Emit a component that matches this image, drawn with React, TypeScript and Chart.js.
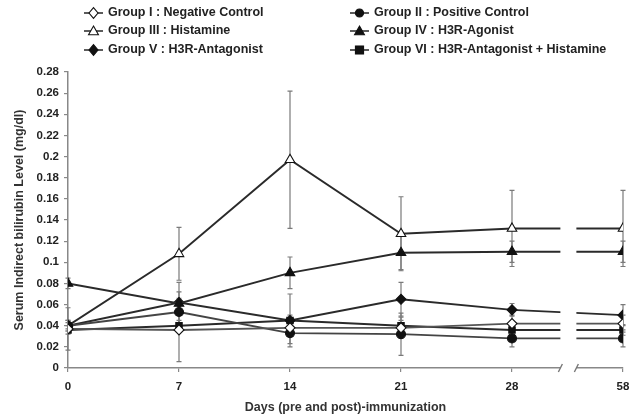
import React, { useEffect, useRef } from "react";
import { Chart, registerables } from "chart.js";

Chart.register(...registerables);

const DAY_LABELS = ["0", "7", "14", "21", "28", "58"];
const POSITIONS = [0, 1, 2, 3, 4, 5];

const GROUP_NAMES = [
  "Group I : Negative Control",
  "Group II : Positive Control",
  "Group III : Histamine",
  "Group IV : H3R-Agonist",
  "Group V : H3R-Antagonist",
  "Group VI : H3R-Antagonist + Histamine",
];

const G1 = [0.037, 0.036, 0.038, 0.038, 0.042, 0.042];
const G2 = [0.04, 0.053, 0.033, 0.032, 0.028, 0.028];
const G3 = [0.04, 0.108, 0.197, 0.127, 0.132, 0.132];
const G4 = [0.08, 0.061, 0.09, 0.109, 0.11, 0.11];
const G5 = [0.04, 0.062, 0.045, 0.065, 0.055, 0.05];
const G6 = [0.036, 0.04, 0.045, 0.04, 0.036, 0.036];

const E1 = [0.02, 0.03, 0.008, 0.01, 0.008, 0.008];
const E2 = [0.005, 0.01, 0.01, 0.02, 0.008, 0.008];
const E3 = [0.003, 0.025, 0.065, 0.035, 0.036, 0.036];
const E4 = [0.005, 0.02, 0.015, 0.016, 0.01, 0.01];
const E5 = [0.005, 0.01, 0.025, 0.016, 0.006, 0.01];
const E6 = [0.004, 0.005, 0.005, 0.005, 0.005, 0.005];

const VALUES = [G1, G2, G3, G4, G5, G6];
const ERRORS = [E1, E2, E3, E4, E5, E6];

const STYLES = [
  { shape: "rectRot", fill: "#ffffff", line: "#555555", r: 5 },
  { shape: "circle", fill: "#111111", line: "#444444", r: 4.5 },
  { shape: "triangle", fill: "#ffffff", line: "#2a2a2a", r: 5.5 },
  { shape: "triangle", fill: "#111111", line: "#2a2a2a", r: 5.5 },
  { shape: "rectRot", fill: "#111111", line: "#2a2a2a", r: 5 },
  { shape: "rect", fill: "#111111", line: "#2a2a2a", r: 4.5 },
];

const BREAK_START = 4.436;
const BREAK_END = 4.58;

const FONT = "'Liberation Sans', Arial, sans-serif";

function drawMarker(ctx: CanvasRenderingContext2D, shape: string, x: number, y: number, r: number, fill: string) {
  ctx.save();
  ctx.beginPath();
  if (shape === "circle") {
    ctx.arc(x, y, r, 0, Math.PI * 2);
  } else if (shape === "rect") {
    ctx.rect(x - r, y - r, 2 * r, 2 * r);
  } else if (shape === "rectRot") {
    ctx.moveTo(x, y - r * 1.2);
    ctx.lineTo(x + r, y);
    ctx.lineTo(x, y + r * 1.2);
    ctx.lineTo(x - r, y);
    ctx.closePath();
  } else if (shape === "triangle") {
    ctx.moveTo(x, y - r);
    ctx.lineTo(x + r, y + r * 0.75);
    ctx.lineTo(x - r, y + r * 0.75);
    ctx.closePath();
  }
  ctx.fillStyle = fill;
  ctx.fill();
  ctx.strokeStyle = "#111111";
  ctx.lineWidth = 1.1;
  ctx.stroke();
  ctx.restore();
}

const errorBarPlugin = {
  id: "errorBars",
  beforeDatasetsDraw(chart: any) {
    const ctx = chart.ctx;
    const ys = chart.scales.y;
    ctx.save();
    ctx.strokeStyle = "#7a7a7a";
    ctx.lineWidth = 1.2;
    chart.data.datasets.forEach((ds: any, i: number) => {
      const meta = chart.getDatasetMeta(i);
      const errs = ERRORS[i];
      meta.data.forEach((pt: any, j: number) => {
        const v = VALUES[i][j];
        const e = errs[j];
        const x = pt.x;
        const yTop = ys.getPixelForValue(v + e);
        const yBot = ys.getPixelForValue(Math.max(0, v - e));
        ctx.beginPath();
        ctx.moveTo(x, yTop);
        ctx.lineTo(x, yBot);
        ctx.moveTo(x - 2.5, yTop);
        ctx.lineTo(x + 2.5, yTop);
        ctx.moveTo(x - 2.5, yBot);
        ctx.lineTo(x + 2.5, yBot);
        ctx.stroke();
      });
    });
    ctx.restore();
  },
};

const breakPlugin = {
  id: "axisBreak",
  afterDatasetsDraw(chart: any) {
    const ctx = chart.ctx;
    const xs = chart.scales.x;
    const area = chart.chartArea;
    const x1 = xs.getPixelForValue(BREAK_START);
    const x2 = xs.getPixelForValue(BREAK_END);
    ctx.save();
    ctx.fillStyle = "#ffffff";
    ctx.fillRect(x1, area.top, x2 - x1, area.bottom - area.top + 3);
    ctx.strokeStyle = "#777777";
    ctx.lineWidth = 1.4;
    const b = area.bottom;
    [x1, x2].forEach((x) => {
      ctx.beginPath();
      ctx.moveTo(x - 2, b + 4);
      ctx.lineTo(x + 2, b - 4);
      ctx.stroke();
    });
    ctx.restore();
  },
};

const decorPlugin = {
  id: "decor",
  afterDraw(chart: any) {
    const ctx = chart.ctx;
    const area = chart.chartArea;
    ctx.save();
    // legend
    const colX = [84, 350];
    const rowY = [13, 31, 50];
    GROUP_NAMES.forEach((name, i) => {
      const x0 = colX[i % 2];
      const y = rowY[Math.floor(i / 2)];
      const st = STYLES[i];
      ctx.strokeStyle = "#333333";
      ctx.lineWidth = 1.6;
      ctx.beginPath();
      ctx.moveTo(x0, y);
      ctx.lineTo(x0 + 19, y);
      ctx.stroke();
      drawMarker(ctx, st.shape, x0 + 9.5, y, st.r * 0.9, st.fill);
      ctx.fillStyle = "#222222";
      ctx.font = `bold 12.5px ${FONT}`;
      ctx.textAlign = "left";
      ctx.textBaseline = "middle";
      ctx.fillText(name, x0 + 24, y);
    });
    // axis titles
    ctx.fillStyle = "#333333";
    ctx.font = `bold 12.5px ${FONT}`;
    ctx.textAlign = "center";
    ctx.textBaseline = "middle";
    ctx.fillText("Days (pre and post)-immunization", (area.left + area.right) / 2, 408);
    ctx.translate(20, (area.top + area.bottom) / 2);
    ctx.rotate(-Math.PI / 2);
    ctx.fillText("Serum Indirect bilirubin Level (mg/dl)", 0, 0);
    ctx.restore();
  },
};

export default function App() {
  const ref = useRef<HTMLCanvasElement | null>(null);

  useEffect(() => {
    if (!ref.current) return;
    const datasets = VALUES.map((vals, i) => ({
      label: GROUP_NAMES[i],
      data: vals.map((v, j) => ({ x: POSITIONS[j], y: v })),
      borderColor: STYLES[i].line,
      borderWidth: 1.9,
      tension: 0,
      pointStyle: STYLES[i].shape,
      pointRadius: STYLES[i].r,
      pointBackgroundColor: STYLES[i].fill,
      pointBorderColor: "#111111",
      pointBorderWidth: 1.1,
      fill: false,
    }));
    const chart = new Chart(ref.current, {
      type: "line",
      data: { datasets },
      options: {
        animation: false,
        responsive: false,
        devicePixelRatio: 1,
        layout: { padding: { top: 72, right: 19, left: 0, bottom: 0 } },
        plugins: { legend: { display: false }, tooltip: { enabled: false } },
        scales: {
          x: {
            type: "linear",
            min: 0,
            max: 5,
            afterFit: (s: any) => {
              s.height = 52;
            },
            border: { display: true, color: "#888888", width: 1.5 },
            grid: { display: true, drawOnChartArea: false, drawTicks: true, tickLength: 4, color: "#888888", lineWidth: 1.2 },
            ticks: {
              stepSize: 1,
              padding: 8,
              color: "#222222",
              font: { family: FONT, size: 11.5, weight: "bold" },
              callback: (v: any) => DAY_LABELS[v] ?? "",
              maxRotation: 0,
            },
          },
          y: {
            min: 0,
            max: 0.28,
            afterFit: (s: any) => {
              s.width = 68;
            },
            border: { display: true, color: "#888888", width: 1.5 },
            grid: { display: true, drawOnChartArea: false, drawTicks: true, tickLength: 4, color: "#888888", lineWidth: 1.2 },
            ticks: {
              stepSize: 0.02,
              padding: 5,
              color: "#222222",
              font: { family: FONT, size: 11.5, weight: "bold" },
              callback: (v: any) => String(Number(Number(v).toFixed(2))),
            },
          },
        },
      },
      plugins: [errorBarPlugin, breakPlugin, decorPlugin],
    } as any);
    return () => chart.destroy();
  }, []);

  return (
    <div style={{ position: "absolute", left: 0, top: 0, width: 642, height: 420, background: "#fff" }}>
      <canvas ref={ref} width={642} height={420} style={{ width: 642, height: 420 }} />
    </div>
  );
}
